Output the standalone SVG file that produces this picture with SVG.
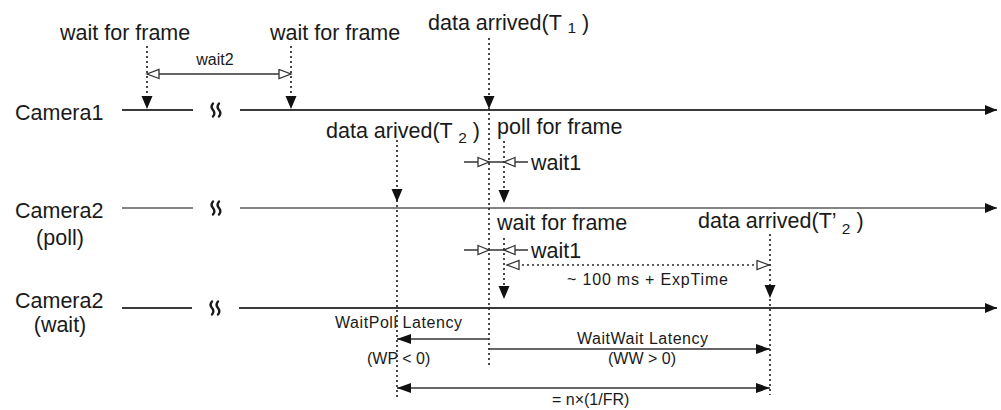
<svg xmlns="http://www.w3.org/2000/svg" width="1001" height="410" viewBox="0 0 1001 410">
  <style>
    text { font-family: "Liberation Sans", Arial, sans-serif; fill: #1a1a1a; }
    .big { font-size: 21.5px; }
    .small { font-size: 16px; }
    .sub { font-size: 15.5px; }
    .axis { stroke: #3a3a3a; stroke-width: 2; fill: none; }
    .axis-thin { stroke: #5a5a5a; stroke-width: 1.3; fill: none; }
    .brk { stroke: #1a1a1a; stroke-width: 2.4; fill: none; stroke-linecap: round; }
    .dot { stroke: #2a2a2a; stroke-width: 1.7; stroke-dasharray: 2 3; fill: none; }
    .thin { stroke: #333; stroke-width: 1.3; fill: none; }
    .span { stroke: #333; stroke-width: 1.6; fill: none; }
    .head { fill: #111; }
    .open { fill: #fff; stroke: #333; stroke-width: 1.3; }
  </style>
  <defs>
    <marker id="solid" markerUnits="userSpaceOnUse" markerWidth="14" markerHeight="12" refX="12" refY="5" orient="auto-start-reverse">
      <path d="M0,0 L12,5 L0,10 z" fill="#111"/>
    </marker>
    <marker id="small-solid" markerUnits="userSpaceOnUse" markerWidth="16" markerHeight="12" refX="14" refY="5" orient="auto-start-reverse">
      <path d="M0,0 L14,5 L0,10 z" fill="#111"/>
    </marker>
    <marker id="hollow" markerUnits="userSpaceOnUse" markerWidth="16" markerHeight="12" refX="13" refY="5.5" orient="auto-start-reverse">
      <path d="M1,1 L13,5.5 L1,10 z" fill="#fff" stroke="#333" stroke-width="1.3"/>
    </marker>
    <path id="down" d="M-5.5,-13 L5.5,-13 L0,0 z"/>
    <path id="hr" d="M-11,-4.5 L0,0 L-11,4.5 z"/>
    <path id="hl" d="M11,-4.5 L0,0 L11,4.5 z"/>
    <!-- axis break: two wavy strokes -->
    <path id="break" d="M-3,-6.5 q-2.8,3.2 0,6.5 q2.8,3.3 0,6.5 M3,-6.5 q-2.8,3.2 0,6.5 q2.8,3.3 0,6.5"/>
  </defs>

  <!-- Camera lanes -->
  <g id="camera1">
    <text class="big" x="15" y="120">Camera1</text>
    <line class="axis" x1="122" y1="110" x2="193" y2="110"/>
    <use href="#break" class="brk" x="216" y="110"/>
    <line class="axis" x1="240" y1="110" x2="997" y2="110" marker-end="url(#solid)"/>
  </g>
  <g id="camera2-poll">
    <text class="big" x="15" y="218">Camera2</text>
    <text class="big" x="60" y="245" text-anchor="middle">(poll)</text>
    <line class="axis-thin" x1="122" y1="208" x2="193" y2="208"/>
    <use href="#break" class="brk" x="216" y="208"/>
    <line class="axis-thin" x1="240" y1="208" x2="997" y2="208" marker-end="url(#solid)"/>
  </g>
  <g id="camera2-wait">
    <text class="big" x="15" y="308">Camera2</text>
    <text class="big" x="60" y="332" text-anchor="middle">(wait)</text>
    <line class="axis" x1="122" y1="308" x2="192" y2="308"/>
    <use href="#break" class="brk" x="215" y="308"/>
    <line class="axis" x1="239" y1="308" x2="997" y2="308" marker-end="url(#solid)"/>
  </g>

  <!-- Event labels -->
  <g id="wait-frame-1"><text class="big" x="60" y="40">wait for frame</text></g>
  <g id="wait-frame-2"><text class="big" x="270" y="40">wait for frame</text></g>
  <g id="data-t1"><text class="big" x="428" y="30">data arrived(T <tspan class="sub" dy="3">1</tspan><tspan dy="-3"> )</tspan></text></g>
  <g id="data-t2"><text class="big" x="326" y="138">data arived(T <tspan class="sub" dy="5">2</tspan><tspan dy="-5"> )</tspan></text></g>
  <g id="poll-frame"><text class="big" x="497" y="134">poll for frame</text></g>
  <g id="wait-frame-3"><text class="big" x="497" y="230">wait for frame</text></g>
  <g id="data-t2p"><text class="big" x="698" y="228">data arrived(T’ <tspan class="sub" dy="6">2</tspan><tspan dy="-6"> )</tspan></text></g>

  <!-- Interval labels -->
  <g id="wait2-label"><text class="small" x="215" y="65" text-anchor="middle">wait2</text></g>
  <g id="wait1-label-a"><text class="big" x="531" y="170">wait1</text></g>
  <g id="wait1-label-b"><text class="big" x="531" y="258">wait1</text></g>
  <g id="exptime-label"><text class="small" x="567" y="285" textLength="161" lengthAdjust="spacing">~ 100 ms + ExpTime</text></g>
  <g id="waitpoll-label">
    <text class="small" x="335" y="328" textLength="127" lengthAdjust="spacing">WaitPoll Latency</text>
    <text class="small" x="367" y="364">(WP &lt; 0)</text>
  </g>
  <g id="waitwait-label">
    <text class="small" x="577" y="344" textLength="131" lengthAdjust="spacing">WaitWait Latency</text>
    <text class="small" x="608" y="364">(WW &gt; 0)</text>
  </g>
  <g id="period-label"><text class="small" x="552" y="405">= n×(1/FR)</text></g>

  <!-- Connectors -->
  <g id="connectors">
    <!-- event markers -->
    <line class="dot" x1="147" y1="46" x2="147" y2="97"/>
    <line class="dot" x1="291" y1="46" x2="291" y2="97"/>
    <line class="dot" x1="489" y1="38" x2="489" y2="365"/>
    <line class="dot" x1="397" y1="140" x2="397" y2="400"/>
    <line class="dot" x1="504" y1="141" x2="504" y2="191"/>
    <line class="dot" x1="504" y1="238" x2="504" y2="287"/>
    <line class="dot" x1="770" y1="234" x2="770" y2="395"/>
    <use href="#down" class="head" x="147" y="109"/>
    <use href="#down" class="head" x="291" y="109"/>
    <use href="#down" class="head" x="489" y="109"/>
    <use href="#down" class="head" x="397" y="202"/>
    <use href="#down" class="head" x="504" y="203"/>
    <use href="#down" class="head" x="504" y="299"/>
    <use href="#down" class="head" x="770" y="298"/>

    <!-- wait2 -->
    <line class="thin" x1="147" y1="74" x2="291" y2="74" marker-start="url(#hollow)" marker-end="url(#hollow)"/>

    <!-- wait1 (poll) -->
    <line class="thin" x1="464" y1="162" x2="528" y2="162"/>
    <use href="#hr" class="open" x="489" y="162"/>
    <use href="#hl" class="open" x="504" y="162"/>

    <!-- wait1 (wait) -->
    <line class="thin" x1="464" y1="250" x2="528" y2="250"/>
    <use href="#hr" class="open" x="489" y="250"/>
    <use href="#hl" class="open" x="504" y="250"/>

    <!-- 100 ms + exposure -->
    <line class="dot" x1="507" y1="265" x2="769" y2="265" marker-start="url(#hollow)" marker-end="url(#hollow)"/>

    <!-- latencies -->
    <line class="span" x1="489" y1="339" x2="397" y2="339" marker-end="url(#small-solid)"/>
    <line class="span" x1="489" y1="349" x2="770" y2="349" marker-end="url(#small-solid)"/>
    <line class="span" x1="397" y1="388" x2="770" y2="388" marker-start="url(#small-solid)" marker-end="url(#small-solid)"/>
  </g>
</svg>
